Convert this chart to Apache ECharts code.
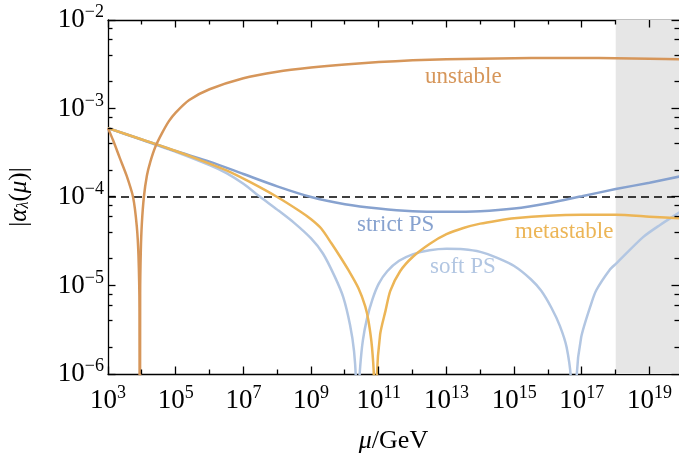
<!DOCTYPE html>
<html><head><meta charset="utf-8">
<script src="https://cdn.jsdelivr.net/npm/echarts@6/dist/echarts.min.js"></script>
<style>html,body{margin:0;padding:0;background:#fff}#c{width:679px;height:453px}</style>
</head><body><div id="c"></div>
<script>
// ---- axis ticks / labels ----
const xTickExponents = [3, 5, 7, 9, 11, 13, 15, 17, 19];
const xMinorExponents = [4, 6, 8, 10, 12, 14, 16, 18];
const yTickExponents = [-6, -5, -4, -3, -2];
const yMinorMantissas = [2, 4, 6, 8];
const xRangeExp = [3, 19.87];
const yRangeExp = [-6, -2];
const thresholdAlpha = 1e-4;
const shadedMu = [1e18, Math.pow(10, xRangeExp[1])];
const curveNames = ['unstable', 'strict PS', 'metastable', 'soft PS'];

// ---- series (log10 of mu/GeV, |alpha_lambda|) ----
const unstableLogMu = [3.0, 3.15, 3.35, 3.55, 3.74, 3.85, 3.9, 3.93, 3.94, 3.95, 3.97, 4.0, 4.06, 4.15, 4.25, 4.4, 4.6, 4.8, 5.0, 5.4, 6.0, 7.0, 8.0, 9.0, 10.0, 11.0, 12.0, 13.0, 14.0, 15.0, 16.0, 17.0, 18.0, 19.0, 20.0];
const unstableAlpha = [6.0e-4, 4.37e-4, 2.75e-4, 1.74e-4, 1.0e-4, 4.7e-5, 2.2e-5, 5.6e-6, 1e-10, 8e-6, 2.5e-5, 5.0e-5, 1.0e-4, 1.75e-4, 2.5e-4, 3.7e-4, 5.3e-4, 7.2e-4, 9.0e-4, 1.25e-3, 1.65e-3, 2.2e-3, 2.6e-3, 2.9e-3, 3.15e-3, 3.35e-3, 3.5e-3, 3.6e-3, 3.66e-3, 3.7e-3, 3.72e-3, 3.72e-3, 3.7e-3, 3.66e-3, 3.6e-3];

const strictLogMu = [3.0, 4.0, 5.0, 6.0, 7.0, 8.0, 9.0, 10.0, 11.0, 12.0, 13.0, 14.0, 15.0, 16.0, 17.0, 18.0, 19.0, 20.0];
const strictAlpha = [6.0e-4, 4.47e-4, 3.31e-4, 2.51e-4, 1.82e-4, 1.32e-4, 1.0e-4, 8.3e-5, 7.4e-5, 6.9e-5, 6.8e-5, 6.9e-5, 7.4e-5, 8.5e-5, 1.02e-4, 1.23e-4, 1.45e-4, 1.74e-4];

const metaLogMu = [3.0, 4.0, 5.0, 5.71, 6.5, 7.19, 8.0, 8.67, 9.0, 9.3, 9.6, 9.85, 10.1, 10.4, 10.6, 10.7, 10.8, 10.86, 10.9, 10.94, 11.04, 11.2, 11.34, 11.63, 12.0, 12.5, 13.0, 13.5, 14.0, 14.5, 15.0, 16.0, 17.0, 18.0, 19.0, 20.0];
const metaAlpha = [6.0e-4, 4.47e-4, 3.31e-4, 2.63e-4, 2.0e-4, 1.48e-4, 1.0e-4, 6.9e-5, 5.6e-5, 4.4e-5, 3.0e-5, 2.14e-5, 1.5e-5, 9.3e-6, 5.8e-6, 3.9e-6, 2.0e-6, 8e-7, 1e-10, 8e-7, 2.8e-6, 5.2e-6, 8.7e-6, 1.45e-5, 2.1e-5, 2.95e-5, 3.8e-5, 4.47e-5, 5.0e-5, 5.4e-5, 5.75e-5, 6.15e-5, 6.3e-5, 6.3e-5, 6.0e-5, 5.7e-5];

const softLogMu = [3.0, 4.0, 5.0, 6.0, 6.5, 7.0, 7.5, 8.0, 8.5, 9.0, 9.35, 9.7, 9.95, 10.15, 10.27, 10.33, 10.37, 10.41, 10.45, 10.53, 10.65, 10.82, 11.0, 11.25, 11.6, 12.0, 12.5, 13.0, 13.5, 14.0, 14.5, 15.0, 15.5, 15.8, 16.1, 16.35, 16.55, 16.68, 16.76, 16.84, 16.98, 17.28, 17.43, 17.82, 18.02, 18.8, 19.3, 19.86, 20.0];
const softAlpha = [6.0e-4, 4.42e-4, 3.24e-4, 2.29e-4, 1.86e-4, 1.41e-4, 1.0e-4, 7.2e-5, 5.1e-5, 3.4e-5, 2.3e-5, 1.26e-5, 7.4e-6, 3.6e-6, 1.8e-6, 7e-7, 1e-10, 6e-7, 1.2e-6, 2.4e-6, 4.2e-6, 7.1e-6, 1.05e-5, 1.45e-5, 1.9e-5, 2.25e-5, 2.5e-5, 2.6e-5, 2.57e-5, 2.4e-5, 2.05e-5, 1.66e-5, 1.17e-5, 8.7e-6, 5.6e-6, 3.5e-6, 2.0e-6, 8e-7, 1e-10, 8e-7, 2.6e-6, 6.3e-6, 8.9e-6, 1.5e-5, 1.78e-5, 3.5e-5, 4.8e-5, 6.6e-5, 7.1e-5];

const colors = {unstable: '#D6965A', strict: '#87A2CF', meta: '#ECB556', soft: '#B2C6E2'};
const FONT = 'Liberation Serif';

function pairs(logMu, alpha) { return logMu.map((L, i) => [Math.pow(10, L), alpha[i]]); }

function supRich() {
  return {
    b: {fontFamily: FONT, fontSize: 27, color: '#000', verticalAlign: 'bottom', lineHeight: 27},
    s: {fontFamily: FONT, fontSize: 18, color: '#000', verticalAlign: 'bottom', lineHeight: 18, padding: [0, 0, 12, 0]}
  };
}
const fmtX = v => '{b|10}{s|' + Math.round(v) + '}';
const fmtY = v => '{b|10}{s|\u2212' + Math.abs(Math.round(v)) + '}';

function valAxis(dim, pos, labels) {
  const r = dim === 'x' ? xRangeExp : yRangeExp;
  return {
    type: 'value', position: pos, min: r[0], max: r[1], interval: 1,
    axisLine: {show: true, onZero: false, lineStyle: {color: '#000', width: 1.3}},
    axisTick: {show: false},
    axisLabel: labels ? {show: true, customValues: dim === 'x' ? xTickExponents : yTickExponents,
      formatter: dim === 'x' ? fmtX : fmtY, rich: supRich(), margin: dim === 'x' ? 13 : 4} : {show: false},
    splitLine: {show: false}
  };
}

const option = {
  animation: false,
  backgroundColor: '#fff',
  grid: {left: 108, top: 20, width: 571, height: 354, outerBoundsMode: 'none', containLabel: false},
  xAxis: [
    {type: 'log', logBase: 10, min: Math.pow(10, xRangeExp[0]), max: Math.pow(10, xRangeExp[1]), show: false},
    Object.assign(valAxis('x', 'bottom', true), {
      name: '{i|\u03bc}/GeV', nameLocation: 'middle', nameGap: 54,
      nameTextStyle: {fontFamily: FONT, fontSize: 26, color: '#000', rich: {i: {fontFamily: FONT, fontStyle: 'italic', fontSize: 26, color: '#000'}}}
    }),
    valAxis('x', 'top', false)
  ],
  yAxis: [
    {type: 'log', logBase: 10, min: Math.pow(10, yRangeExp[0]), max: Math.pow(10, yRangeExp[1]), show: false},
    Object.assign(valAxis('y', 'left', true), {
      name: '|{i|\u03b1}{sub|\u03bb}({i|\u03bc})|', nameLocation: 'middle', nameGap: 76, nameRotate: 90,
      nameTextStyle: {fontFamily: FONT, fontSize: 25, color: '#000', rich: {
        i: {fontFamily: FONT, fontStyle: 'italic', fontSize: 25, color: '#000'},
        sub: {fontFamily: FONT, fontStyle: 'italic', fontSize: 16, color: '#000', verticalAlign: 'bottom', padding: [8, 0, 0, 0]}
      }}
    })
  ],
  series: [
    {type: 'line', xAxisIndex: 0, yAxisIndex: 0, data: [], z: 1, silent: true,
      markArea: {silent: true, itemStyle: {color: '#E6E6E6'}, data: [[{xAxis: shadedMu[0]}, {xAxis: shadedMu[1]}]]}},
    {type: 'line', xAxisIndex: 0, yAxisIndex: 0, z: 2, silent: true, symbol: 'none', showSymbol: false,
      data: [[Math.pow(10, xRangeExp[0]), thresholdAlpha], [Math.pow(10, xRangeExp[1]), thresholdAlpha]],
      lineStyle: {color: '#000', type: [8, 5], width: 1.5}},
    ...[['soft PS', softLogMu, softAlpha, colors.soft, 3], ['strict PS', strictLogMu, strictAlpha, colors.strict, 4],
        ['metastable', metaLogMu, metaAlpha, colors.meta, 5], ['unstable', unstableLogMu, unstableAlpha, colors.unstable, 6]]
      .map(([name, L, a, color, z]) => ({name, type: 'line', xAxisIndex: 0, yAxisIndex: 0, data: pairs(L, a),
        showSymbol: false, symbol: 'none', smooth: 0.25, lineStyle: {color, width: 2.5}, z, silent: true, clip: true}))
  ]
};
const chart = echarts.init(document.getElementById('c'), null, {renderer: 'canvas'});
chart.setOption(option);

// ---- frame ticks, placed through the log axes' own scales ----
const px = v => chart.convertToPixel({xAxisIndex: 0}, v);
const py = v => chart.convertToPixel({yAxisIndex: 0}, v);
const snap = v => Math.round(v - 0.5) + 0.5;
const xL = px(Math.pow(10, xRangeExp[0])), xR = px(Math.pow(10, xRangeExp[1]));
const yT = py(Math.pow(10, yRangeExp[1])), yB = py(Math.pow(10, yRangeExp[0]));
const els = [];
const seg = (x1, y1, x2, y2) => els.push({type: 'line', silent: true, z: 100,
  shape: {x1, y1, x2, y2}, style: {stroke: '#000', lineWidth: 1.3}});
xTickExponents.concat(xMinorExponents).forEach(e => {
  const x = snap(px(Math.pow(10, e))), len = xTickExponents.includes(e) ? 7.5 : 4.5;
  seg(x, yB, x, yB - len); seg(x, yT, x, yT + len);
});
for (let n = yRangeExp[0]; n <= yRangeExp[1]; n++) {
  const y = snap(py(Math.pow(10, n)));
  seg(xL, y, xL + 7.5, y); seg(xR, y, xR - 7.5, y);
  if (n < yRangeExp[1]) yMinorMantissas.forEach(m => {
    const ym = snap(py(m * Math.pow(10, n)));
    seg(xL, ym, xL + 4.5, ym); seg(xR, ym, xR - 4.5, ym);
  });
}
const labelFont = '23px "Liberation Serif"';
[[425, 65, 0, colors.unstable], [357, 213, 1, colors.strict], [515, 220, 2, colors.meta], [430, 255, 3, colors.soft]]
  .forEach(([l, t, i, c]) => els.push({type: 'text', left: l, top: t, z: 100, style: {text: curveNames[i], fill: c, font: labelFont}}));
chart.setOption({graphic: {elements: els}});
</script></body></html>
